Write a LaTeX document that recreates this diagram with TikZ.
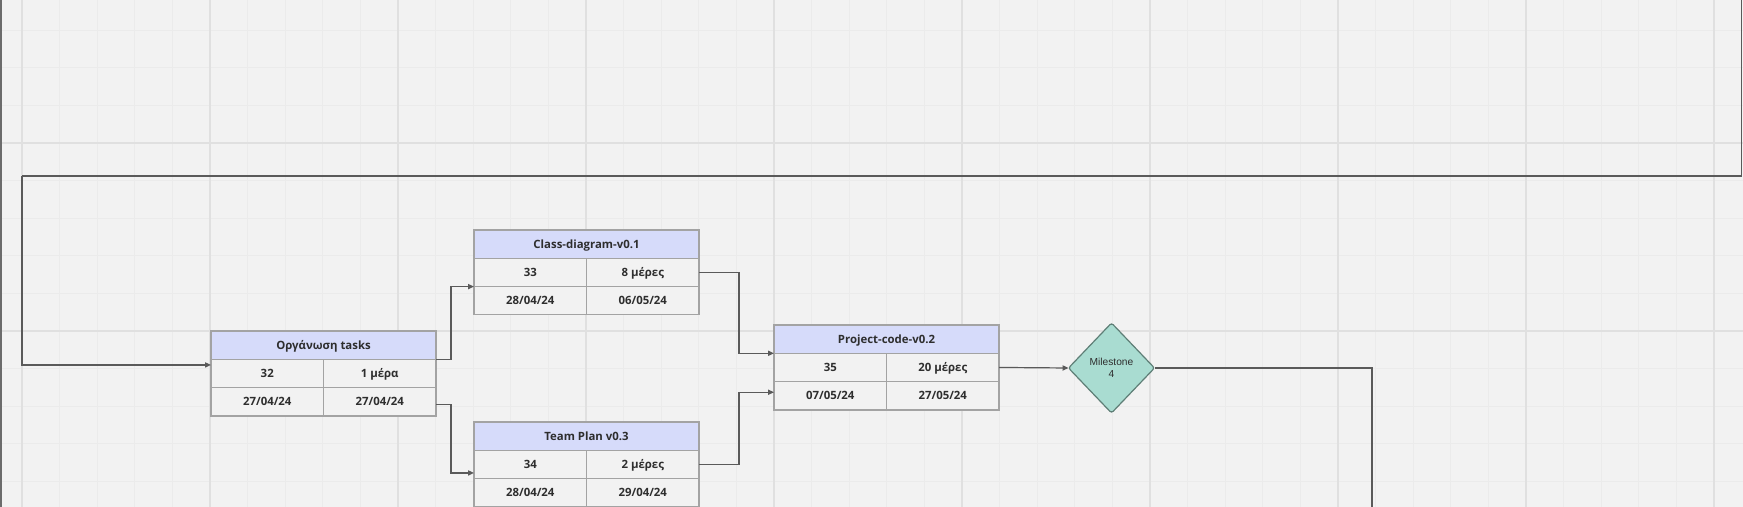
\documentclass[tikz,border=0pt]{standalone}
\usepackage{fontspec}
\setmainfont{Open Sans}
\newfontfamily\arialf{Liberation Sans}
\usetikzlibrary{shapes.geometric,arrows.meta,calc}
\definecolor{bgc}{HTML}{F2F2F2}
\definecolor{minorc}{HTML}{EBEBEB}
\definecolor{majorc}{HTML}{E0E0E0}
\definecolor{hdrc}{HTML}{D6DBFA}
\definecolor{bordc}{HTML}{A3A3A3}
\definecolor{txtc}{HTML}{2E2E2E}
\definecolor{connc}{HTML}{5A5A5A}
\definecolor{diafill}{HTML}{A9DCD1}
\definecolor{diabord}{HTML}{5E7E76}
\tikzset{
  minorline/.style={draw=minorc,line width=0.5pt},
  majorline/.style={draw=majorc,line width=0.7pt},
  tcell/.style={draw=bordc,line width=0.6pt,outer sep=0pt,minimum height=14.15pt,inner sep=0pt,text height=4pt,text depth=0pt,font=\fontsize{5.7}{6.5}\selectfont\bfseries,text=txtc,anchor=north west},
  hdr/.style={tcell,fill=hdrc,minimum width=112.5pt},
  cell/.style={tcell,fill=bgc,minimum width=56.25pt},
  conn/.style={draw=connc,line width=0.6pt},
  arr/.style={conn,-{Triangle[length=3pt,width=2.6pt]}},
  edgeline/.style={draw=gray!85!black,line width=0.8pt},
  milestone/.style={shape=diamond,draw=diabord,fill=diafill,line width=0.6pt,outer sep=0pt,minimum width=43pt,minimum height=45pt,inner sep=0pt,rounded corners=1.2pt,align=center,font=\arialf\fontsize{5.1}{6}\selectfont,text=txtc}
}
\newcommand{\ptable}[8]{%
  \node[hdr] (#1-h) at (#2,#3) {#4};
  \node[cell] (#1-a) at (#1-h.south west) {#5};
  \node[cell] (#1-b) at (#1-a.north east) {#6};
  \node[cell] (#1-c) at (#1-a.south west) {#7};
  \node[cell] (#1-d) at (#1-c.north east) {#8};
}
\begin{document}
\begin{tikzpicture}[x=0.5pt,y=-0.5pt]
\useasboundingbox (0,0) rectangle (1743,507);
\fill[bgc] (0,0) rectangle (1743,507);
\begin{scope}
\clip (0,0) rectangle (1743,507);
\foreach \i in {0,...,46} {\pgfmathsetmacro\gx{22+37.6*\i}\draw[minorline] (\gx,0) -- (\gx,507);}
\foreach \j in {-3,...,9} {\pgfmathsetmacro\gy{143+37.6*\j}\draw[minorline] (0,\gy) -- (1743,\gy);}
\foreach \i in {0,...,9} {\pgfmathsetmacro\gx{22+188*\i}\draw[majorline] (\gx,0) -- (\gx,507);}
\foreach \gy in {143,331} {\draw[majorline] (0,\gy) -- (1743,\gy);}
\end{scope}

\ptable{A}{211}{331}{Οργάνωση tasks}{32}{1 μέρα}{27/04/24}{27/04/24}
\ptable{B}{474}{230}{Class-diagram-v0.1}{33}{8 μέρες}{28/04/24}{06/05/24}
\ptable{C}{474}{422}{Team Plan v0.3}{34}{2 μέρες}{28/04/24}{29/04/24}
\ptable{D}{774}{325}{Project-code-v0.2}{35}{20 μέρες}{07/05/24}{27/05/24}
\node[milestone] (E) at (1111.5,368) {Milestone\\4};

\coordinate (l0) at (0.8,-3);
\coordinate (l1) at (0.8,510);
\coordinate (t7) at (1741.8,-3);
\coordinate (k7) at (22,176);
\coordinate (e6) at (1372,512);

\draw[edgeline] (l0) -- (l1);
\draw[arr] (A-h.south east) -- ++(15,0) |- (B-c.north west);
\draw[arr] ([yshift=-1.5pt]A-d.east) -- ++(15,0) |- ([yshift=-4.25pt]C-a.west);
\draw[arr] (B-b.east) -- ++(40,0) |- (D-a.north west);
\draw[arr] (C-b.east) -- ++(40,0) |- ([yshift=1.75pt]D-c.west);
\draw[arr] (D-b.east) -- (E.west);
\draw[conn] (E.east) -| (e6);
\draw[conn] (t7) |- (k7);
\draw[arr] (k7) |- ([yshift=4.25pt]A-a.west);
\end{tikzpicture}
\end{document}
